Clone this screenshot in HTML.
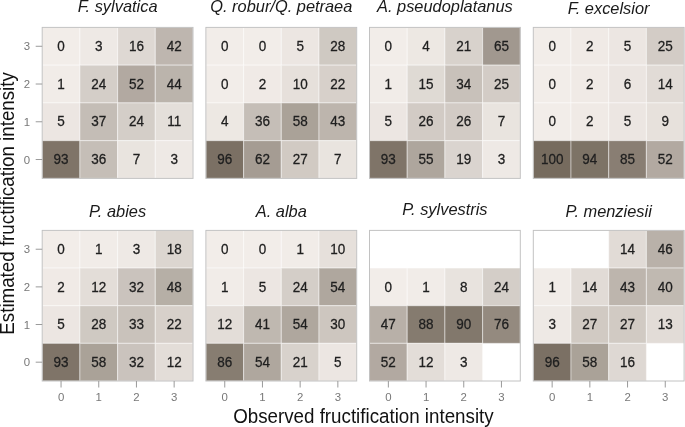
<!DOCTYPE html><html><head><meta charset="utf-8"><title>Fructification</title><style>html,body{margin:0;padding:0;background:#fff}svg{display:block}svg{will-change:transform}text{font-family:"Liberation Sans",Arial,sans-serif}</style></head><body>
<svg width="685" height="427" viewBox="0 0 685 427">
<rect width="685" height="427" fill="#fff"/>
<g>
<rect x="42.20" y="27.40" width="37.70" height="37.75" fill="#f2ede9" stroke="#fff" stroke-opacity="0.42" stroke-width="1.1"/>
<rect x="79.90" y="27.40" width="37.70" height="37.75" fill="#eee9e5" stroke="#fff" stroke-opacity="0.42" stroke-width="1.1"/>
<rect x="117.60" y="27.40" width="37.70" height="37.75" fill="#ded8d3" stroke="#fff" stroke-opacity="0.42" stroke-width="1.1"/>
<rect x="155.30" y="27.40" width="37.70" height="37.75" fill="#beb6af" stroke="#fff" stroke-opacity="0.42" stroke-width="1.1"/>
<rect x="42.20" y="65.15" width="37.70" height="37.75" fill="#f1ece8" stroke="#fff" stroke-opacity="0.42" stroke-width="1.1"/>
<rect x="79.90" y="65.15" width="37.70" height="37.75" fill="#d4cec8" stroke="#fff" stroke-opacity="0.42" stroke-width="1.1"/>
<rect x="117.60" y="65.15" width="37.70" height="37.75" fill="#b2a9a1" stroke="#fff" stroke-opacity="0.42" stroke-width="1.1"/>
<rect x="155.30" y="65.15" width="37.70" height="37.75" fill="#bbb4ac" stroke="#fff" stroke-opacity="0.42" stroke-width="1.1"/>
<rect x="42.20" y="102.90" width="37.70" height="37.75" fill="#ece6e2" stroke="#fff" stroke-opacity="0.42" stroke-width="1.1"/>
<rect x="79.90" y="102.90" width="37.70" height="37.75" fill="#c4bdb6" stroke="#fff" stroke-opacity="0.42" stroke-width="1.1"/>
<rect x="117.60" y="102.90" width="37.70" height="37.75" fill="#d4cec8" stroke="#fff" stroke-opacity="0.42" stroke-width="1.1"/>
<rect x="155.30" y="102.90" width="37.70" height="37.75" fill="#e4dfda" stroke="#fff" stroke-opacity="0.42" stroke-width="1.1"/>
<rect x="42.20" y="140.65" width="37.70" height="37.75" fill="#7f7468" stroke="#fff" stroke-opacity="0.42" stroke-width="1.1"/>
<rect x="79.90" y="140.65" width="37.70" height="37.75" fill="#c5beb7" stroke="#fff" stroke-opacity="0.42" stroke-width="1.1"/>
<rect x="117.60" y="140.65" width="37.70" height="37.75" fill="#e9e4df" stroke="#fff" stroke-opacity="0.42" stroke-width="1.1"/>
<rect x="155.30" y="140.65" width="37.70" height="37.75" fill="#eee9e5" stroke="#fff" stroke-opacity="0.42" stroke-width="1.1"/>
<text transform="translate(61.05,50.98) scale(1,1.04)" font-size="13.5" text-anchor="middle" fill="#202020" stroke="#202020" stroke-width="0.25">0</text>
<text transform="translate(98.75,50.98) scale(1,1.04)" font-size="13.5" text-anchor="middle" fill="#202020" stroke="#202020" stroke-width="0.25">3</text>
<text transform="translate(136.45,50.98) scale(1,1.04)" font-size="13.5" text-anchor="middle" fill="#202020" stroke="#202020" stroke-width="0.25">16</text>
<text transform="translate(174.15,50.98) scale(1,1.04)" font-size="13.5" text-anchor="middle" fill="#202020" stroke="#202020" stroke-width="0.25">42</text>
<text transform="translate(61.05,88.73) scale(1,1.04)" font-size="13.5" text-anchor="middle" fill="#202020" stroke="#202020" stroke-width="0.25">1</text>
<text transform="translate(98.75,88.73) scale(1,1.04)" font-size="13.5" text-anchor="middle" fill="#202020" stroke="#202020" stroke-width="0.25">24</text>
<text transform="translate(136.45,88.73) scale(1,1.04)" font-size="13.5" text-anchor="middle" fill="#202020" stroke="#202020" stroke-width="0.25">52</text>
<text transform="translate(174.15,88.73) scale(1,1.04)" font-size="13.5" text-anchor="middle" fill="#202020" stroke="#202020" stroke-width="0.25">44</text>
<text transform="translate(61.05,126.48) scale(1,1.04)" font-size="13.5" text-anchor="middle" fill="#202020" stroke="#202020" stroke-width="0.25">5</text>
<text transform="translate(98.75,126.48) scale(1,1.04)" font-size="13.5" text-anchor="middle" fill="#202020" stroke="#202020" stroke-width="0.25">37</text>
<text transform="translate(136.45,126.48) scale(1,1.04)" font-size="13.5" text-anchor="middle" fill="#202020" stroke="#202020" stroke-width="0.25">24</text>
<text transform="translate(174.15,126.48) scale(1,1.04)" font-size="13.5" text-anchor="middle" fill="#202020" stroke="#202020" stroke-width="0.25">11</text>
<text transform="translate(61.05,164.22) scale(1,1.04)" font-size="13.5" text-anchor="middle" fill="#202020" stroke="#202020" stroke-width="0.25">93</text>
<text transform="translate(98.75,164.22) scale(1,1.04)" font-size="13.5" text-anchor="middle" fill="#202020" stroke="#202020" stroke-width="0.25">36</text>
<text transform="translate(136.45,164.22) scale(1,1.04)" font-size="13.5" text-anchor="middle" fill="#202020" stroke="#202020" stroke-width="0.25">7</text>
<text transform="translate(174.15,164.22) scale(1,1.04)" font-size="13.5" text-anchor="middle" fill="#202020" stroke="#202020" stroke-width="0.25">3</text>
<rect x="42.20" y="27.40" width="150.80" height="151.00" fill="none" stroke="#c2c2c2" stroke-width="1"/>
<text x="117.60" y="12.0" font-size="16.4" font-style="italic" text-anchor="middle" fill="#1a1a1a">F. sylvatica</text>
<line x1="35.70" x2="42.20" y1="46.27" y2="46.27" stroke="#9a9a9a" stroke-width="1"/>
<text x="30.10" y="50.38" font-size="11.4" text-anchor="end" fill="#787878">3</text>
<line x1="35.70" x2="42.20" y1="84.03" y2="84.03" stroke="#9a9a9a" stroke-width="1"/>
<text x="30.10" y="88.12" font-size="11.4" text-anchor="end" fill="#787878">2</text>
<line x1="35.70" x2="42.20" y1="121.78" y2="121.78" stroke="#9a9a9a" stroke-width="1"/>
<text x="30.10" y="125.88" font-size="11.4" text-anchor="end" fill="#787878">1</text>
<line x1="35.70" x2="42.20" y1="159.53" y2="159.53" stroke="#9a9a9a" stroke-width="1"/>
<text x="30.10" y="163.62" font-size="11.4" text-anchor="end" fill="#787878">0</text>
</g>
<g>
<rect x="205.90" y="27.40" width="37.70" height="37.75" fill="#f2ede9" stroke="#fff" stroke-opacity="0.42" stroke-width="1.1"/>
<rect x="243.60" y="27.40" width="37.70" height="37.75" fill="#f2ede9" stroke="#fff" stroke-opacity="0.42" stroke-width="1.1"/>
<rect x="281.30" y="27.40" width="37.70" height="37.75" fill="#ece6e2" stroke="#fff" stroke-opacity="0.42" stroke-width="1.1"/>
<rect x="319.00" y="27.40" width="37.70" height="37.75" fill="#cfc9c2" stroke="#fff" stroke-opacity="0.42" stroke-width="1.1"/>
<rect x="205.90" y="65.15" width="37.70" height="37.75" fill="#f2ede9" stroke="#fff" stroke-opacity="0.42" stroke-width="1.1"/>
<rect x="243.60" y="65.15" width="37.70" height="37.75" fill="#f0eae6" stroke="#fff" stroke-opacity="0.42" stroke-width="1.1"/>
<rect x="281.30" y="65.15" width="37.70" height="37.75" fill="#e6e0db" stroke="#fff" stroke-opacity="0.42" stroke-width="1.1"/>
<rect x="319.00" y="65.15" width="37.70" height="37.75" fill="#d7d0ca" stroke="#fff" stroke-opacity="0.42" stroke-width="1.1"/>
<rect x="205.90" y="102.90" width="37.70" height="37.75" fill="#ede8e3" stroke="#fff" stroke-opacity="0.42" stroke-width="1.1"/>
<rect x="243.60" y="102.90" width="37.70" height="37.75" fill="#c5beb7" stroke="#fff" stroke-opacity="0.42" stroke-width="1.1"/>
<rect x="281.30" y="102.90" width="37.70" height="37.75" fill="#aaa298" stroke="#fff" stroke-opacity="0.42" stroke-width="1.1"/>
<rect x="319.00" y="102.90" width="37.70" height="37.75" fill="#bdb5ad" stroke="#fff" stroke-opacity="0.42" stroke-width="1.1"/>
<rect x="205.90" y="140.65" width="37.70" height="37.75" fill="#7b7064" stroke="#fff" stroke-opacity="0.42" stroke-width="1.1"/>
<rect x="243.60" y="140.65" width="37.70" height="37.75" fill="#a59c93" stroke="#fff" stroke-opacity="0.42" stroke-width="1.1"/>
<rect x="281.30" y="140.65" width="37.70" height="37.75" fill="#d1cac3" stroke="#fff" stroke-opacity="0.42" stroke-width="1.1"/>
<rect x="319.00" y="140.65" width="37.70" height="37.75" fill="#e9e4df" stroke="#fff" stroke-opacity="0.42" stroke-width="1.1"/>
<text transform="translate(224.75,50.98) scale(1,1.04)" font-size="13.5" text-anchor="middle" fill="#202020" stroke="#202020" stroke-width="0.25">0</text>
<text transform="translate(262.45,50.98) scale(1,1.04)" font-size="13.5" text-anchor="middle" fill="#202020" stroke="#202020" stroke-width="0.25">0</text>
<text transform="translate(300.15,50.98) scale(1,1.04)" font-size="13.5" text-anchor="middle" fill="#202020" stroke="#202020" stroke-width="0.25">5</text>
<text transform="translate(337.85,50.98) scale(1,1.04)" font-size="13.5" text-anchor="middle" fill="#202020" stroke="#202020" stroke-width="0.25">28</text>
<text transform="translate(224.75,88.73) scale(1,1.04)" font-size="13.5" text-anchor="middle" fill="#202020" stroke="#202020" stroke-width="0.25">0</text>
<text transform="translate(262.45,88.73) scale(1,1.04)" font-size="13.5" text-anchor="middle" fill="#202020" stroke="#202020" stroke-width="0.25">2</text>
<text transform="translate(300.15,88.73) scale(1,1.04)" font-size="13.5" text-anchor="middle" fill="#202020" stroke="#202020" stroke-width="0.25">10</text>
<text transform="translate(337.85,88.73) scale(1,1.04)" font-size="13.5" text-anchor="middle" fill="#202020" stroke="#202020" stroke-width="0.25">22</text>
<text transform="translate(224.75,126.48) scale(1,1.04)" font-size="13.5" text-anchor="middle" fill="#202020" stroke="#202020" stroke-width="0.25">4</text>
<text transform="translate(262.45,126.48) scale(1,1.04)" font-size="13.5" text-anchor="middle" fill="#202020" stroke="#202020" stroke-width="0.25">36</text>
<text transform="translate(300.15,126.48) scale(1,1.04)" font-size="13.5" text-anchor="middle" fill="#202020" stroke="#202020" stroke-width="0.25">58</text>
<text transform="translate(337.85,126.48) scale(1,1.04)" font-size="13.5" text-anchor="middle" fill="#202020" stroke="#202020" stroke-width="0.25">43</text>
<text transform="translate(224.75,164.22) scale(1,1.04)" font-size="13.5" text-anchor="middle" fill="#202020" stroke="#202020" stroke-width="0.25">96</text>
<text transform="translate(262.45,164.22) scale(1,1.04)" font-size="13.5" text-anchor="middle" fill="#202020" stroke="#202020" stroke-width="0.25">62</text>
<text transform="translate(300.15,164.22) scale(1,1.04)" font-size="13.5" text-anchor="middle" fill="#202020" stroke="#202020" stroke-width="0.25">27</text>
<text transform="translate(337.85,164.22) scale(1,1.04)" font-size="13.5" text-anchor="middle" fill="#202020" stroke="#202020" stroke-width="0.25">7</text>
<rect x="205.90" y="27.40" width="150.80" height="151.00" fill="none" stroke="#c2c2c2" stroke-width="1"/>
<text x="281.30" y="12.0" font-size="16.4" font-style="italic" text-anchor="middle" fill="#1a1a1a">Q. robur/Q. petraea</text>
</g>
<g>
<rect x="369.50" y="27.40" width="37.70" height="37.75" fill="#f2ede9" stroke="#fff" stroke-opacity="0.42" stroke-width="1.1"/>
<rect x="407.20" y="27.40" width="37.70" height="37.75" fill="#ede8e3" stroke="#fff" stroke-opacity="0.42" stroke-width="1.1"/>
<rect x="444.90" y="27.40" width="37.70" height="37.75" fill="#d8d2cc" stroke="#fff" stroke-opacity="0.42" stroke-width="1.1"/>
<rect x="482.60" y="27.40" width="37.70" height="37.75" fill="#a1988f" stroke="#fff" stroke-opacity="0.42" stroke-width="1.1"/>
<rect x="369.50" y="65.15" width="37.70" height="37.75" fill="#f1ece8" stroke="#fff" stroke-opacity="0.42" stroke-width="1.1"/>
<rect x="407.20" y="65.15" width="37.70" height="37.75" fill="#dfdad4" stroke="#fff" stroke-opacity="0.42" stroke-width="1.1"/>
<rect x="444.90" y="65.15" width="37.70" height="37.75" fill="#c8c1ba" stroke="#fff" stroke-opacity="0.42" stroke-width="1.1"/>
<rect x="482.60" y="65.15" width="37.70" height="37.75" fill="#d3ccc6" stroke="#fff" stroke-opacity="0.42" stroke-width="1.1"/>
<rect x="369.50" y="102.90" width="37.70" height="37.75" fill="#ece6e2" stroke="#fff" stroke-opacity="0.42" stroke-width="1.1"/>
<rect x="407.20" y="102.90" width="37.70" height="37.75" fill="#d2cbc5" stroke="#fff" stroke-opacity="0.42" stroke-width="1.1"/>
<rect x="444.90" y="102.90" width="37.70" height="37.75" fill="#d2cbc5" stroke="#fff" stroke-opacity="0.42" stroke-width="1.1"/>
<rect x="482.60" y="102.90" width="37.70" height="37.75" fill="#e9e4df" stroke="#fff" stroke-opacity="0.42" stroke-width="1.1"/>
<rect x="369.50" y="140.65" width="37.70" height="37.75" fill="#7f7468" stroke="#fff" stroke-opacity="0.42" stroke-width="1.1"/>
<rect x="407.20" y="140.65" width="37.70" height="37.75" fill="#aea69d" stroke="#fff" stroke-opacity="0.42" stroke-width="1.1"/>
<rect x="444.90" y="140.65" width="37.70" height="37.75" fill="#dad4cf" stroke="#fff" stroke-opacity="0.42" stroke-width="1.1"/>
<rect x="482.60" y="140.65" width="37.70" height="37.75" fill="#eee9e5" stroke="#fff" stroke-opacity="0.42" stroke-width="1.1"/>
<text transform="translate(388.35,50.98) scale(1,1.04)" font-size="13.5" text-anchor="middle" fill="#202020" stroke="#202020" stroke-width="0.25">0</text>
<text transform="translate(426.05,50.98) scale(1,1.04)" font-size="13.5" text-anchor="middle" fill="#202020" stroke="#202020" stroke-width="0.25">4</text>
<text transform="translate(463.75,50.98) scale(1,1.04)" font-size="13.5" text-anchor="middle" fill="#202020" stroke="#202020" stroke-width="0.25">21</text>
<text transform="translate(501.45,50.98) scale(1,1.04)" font-size="13.5" text-anchor="middle" fill="#202020" stroke="#202020" stroke-width="0.25">65</text>
<text transform="translate(388.35,88.73) scale(1,1.04)" font-size="13.5" text-anchor="middle" fill="#202020" stroke="#202020" stroke-width="0.25">1</text>
<text transform="translate(426.05,88.73) scale(1,1.04)" font-size="13.5" text-anchor="middle" fill="#202020" stroke="#202020" stroke-width="0.25">15</text>
<text transform="translate(463.75,88.73) scale(1,1.04)" font-size="13.5" text-anchor="middle" fill="#202020" stroke="#202020" stroke-width="0.25">34</text>
<text transform="translate(501.45,88.73) scale(1,1.04)" font-size="13.5" text-anchor="middle" fill="#202020" stroke="#202020" stroke-width="0.25">25</text>
<text transform="translate(388.35,126.48) scale(1,1.04)" font-size="13.5" text-anchor="middle" fill="#202020" stroke="#202020" stroke-width="0.25">5</text>
<text transform="translate(426.05,126.48) scale(1,1.04)" font-size="13.5" text-anchor="middle" fill="#202020" stroke="#202020" stroke-width="0.25">26</text>
<text transform="translate(463.75,126.48) scale(1,1.04)" font-size="13.5" text-anchor="middle" fill="#202020" stroke="#202020" stroke-width="0.25">26</text>
<text transform="translate(501.45,126.48) scale(1,1.04)" font-size="13.5" text-anchor="middle" fill="#202020" stroke="#202020" stroke-width="0.25">7</text>
<text transform="translate(388.35,164.22) scale(1,1.04)" font-size="13.5" text-anchor="middle" fill="#202020" stroke="#202020" stroke-width="0.25">93</text>
<text transform="translate(426.05,164.22) scale(1,1.04)" font-size="13.5" text-anchor="middle" fill="#202020" stroke="#202020" stroke-width="0.25">55</text>
<text transform="translate(463.75,164.22) scale(1,1.04)" font-size="13.5" text-anchor="middle" fill="#202020" stroke="#202020" stroke-width="0.25">19</text>
<text transform="translate(501.45,164.22) scale(1,1.04)" font-size="13.5" text-anchor="middle" fill="#202020" stroke="#202020" stroke-width="0.25">3</text>
<rect x="369.50" y="27.40" width="150.80" height="151.00" fill="none" stroke="#c2c2c2" stroke-width="1"/>
<text x="444.90" y="12.0" font-size="16.4" font-style="italic" text-anchor="middle" fill="#1a1a1a">A. pseudoplatanus</text>
</g>
<g>
<rect x="533.30" y="27.40" width="37.70" height="37.75" fill="#f2ede9" stroke="#fff" stroke-opacity="0.42" stroke-width="1.1"/>
<rect x="571.00" y="27.40" width="37.70" height="37.75" fill="#f0eae6" stroke="#fff" stroke-opacity="0.42" stroke-width="1.1"/>
<rect x="608.70" y="27.40" width="37.70" height="37.75" fill="#ece6e2" stroke="#fff" stroke-opacity="0.42" stroke-width="1.1"/>
<rect x="646.40" y="27.40" width="37.70" height="37.75" fill="#d3ccc6" stroke="#fff" stroke-opacity="0.42" stroke-width="1.1"/>
<rect x="533.30" y="65.15" width="37.70" height="37.75" fill="#f2ede9" stroke="#fff" stroke-opacity="0.42" stroke-width="1.1"/>
<rect x="571.00" y="65.15" width="37.70" height="37.75" fill="#f0eae6" stroke="#fff" stroke-opacity="0.42" stroke-width="1.1"/>
<rect x="608.70" y="65.15" width="37.70" height="37.75" fill="#ebe5e1" stroke="#fff" stroke-opacity="0.42" stroke-width="1.1"/>
<rect x="646.40" y="65.15" width="37.70" height="37.75" fill="#e1dbd6" stroke="#fff" stroke-opacity="0.42" stroke-width="1.1"/>
<rect x="533.30" y="102.90" width="37.70" height="37.75" fill="#f2ede9" stroke="#fff" stroke-opacity="0.42" stroke-width="1.1"/>
<rect x="571.00" y="102.90" width="37.70" height="37.75" fill="#f0eae6" stroke="#fff" stroke-opacity="0.42" stroke-width="1.1"/>
<rect x="608.70" y="102.90" width="37.70" height="37.75" fill="#ece6e2" stroke="#fff" stroke-opacity="0.42" stroke-width="1.1"/>
<rect x="646.40" y="102.90" width="37.70" height="37.75" fill="#e7e1dc" stroke="#fff" stroke-opacity="0.42" stroke-width="1.1"/>
<rect x="533.30" y="140.65" width="37.70" height="37.75" fill="#766b5e" stroke="#fff" stroke-opacity="0.42" stroke-width="1.1"/>
<rect x="571.00" y="140.65" width="37.70" height="37.75" fill="#7d7366" stroke="#fff" stroke-opacity="0.42" stroke-width="1.1"/>
<rect x="608.70" y="140.65" width="37.70" height="37.75" fill="#897e73" stroke="#fff" stroke-opacity="0.42" stroke-width="1.1"/>
<rect x="646.40" y="140.65" width="37.70" height="37.75" fill="#b2a9a1" stroke="#fff" stroke-opacity="0.42" stroke-width="1.1"/>
<text transform="translate(552.15,50.98) scale(1,1.04)" font-size="13.5" text-anchor="middle" fill="#202020" stroke="#202020" stroke-width="0.25">0</text>
<text transform="translate(589.85,50.98) scale(1,1.04)" font-size="13.5" text-anchor="middle" fill="#202020" stroke="#202020" stroke-width="0.25">2</text>
<text transform="translate(627.55,50.98) scale(1,1.04)" font-size="13.5" text-anchor="middle" fill="#202020" stroke="#202020" stroke-width="0.25">5</text>
<text transform="translate(665.25,50.98) scale(1,1.04)" font-size="13.5" text-anchor="middle" fill="#202020" stroke="#202020" stroke-width="0.25">25</text>
<text transform="translate(552.15,88.73) scale(1,1.04)" font-size="13.5" text-anchor="middle" fill="#202020" stroke="#202020" stroke-width="0.25">0</text>
<text transform="translate(589.85,88.73) scale(1,1.04)" font-size="13.5" text-anchor="middle" fill="#202020" stroke="#202020" stroke-width="0.25">2</text>
<text transform="translate(627.55,88.73) scale(1,1.04)" font-size="13.5" text-anchor="middle" fill="#202020" stroke="#202020" stroke-width="0.25">6</text>
<text transform="translate(665.25,88.73) scale(1,1.04)" font-size="13.5" text-anchor="middle" fill="#202020" stroke="#202020" stroke-width="0.25">14</text>
<text transform="translate(552.15,126.48) scale(1,1.04)" font-size="13.5" text-anchor="middle" fill="#202020" stroke="#202020" stroke-width="0.25">0</text>
<text transform="translate(589.85,126.48) scale(1,1.04)" font-size="13.5" text-anchor="middle" fill="#202020" stroke="#202020" stroke-width="0.25">2</text>
<text transform="translate(627.55,126.48) scale(1,1.04)" font-size="13.5" text-anchor="middle" fill="#202020" stroke="#202020" stroke-width="0.25">5</text>
<text transform="translate(665.25,126.48) scale(1,1.04)" font-size="13.5" text-anchor="middle" fill="#202020" stroke="#202020" stroke-width="0.25">9</text>
<text transform="translate(552.15,164.22) scale(1,1.04)" font-size="13.5" text-anchor="middle" fill="#202020" stroke="#202020" stroke-width="0.25">100</text>
<text transform="translate(589.85,164.22) scale(1,1.04)" font-size="13.5" text-anchor="middle" fill="#202020" stroke="#202020" stroke-width="0.25">94</text>
<text transform="translate(627.55,164.22) scale(1,1.04)" font-size="13.5" text-anchor="middle" fill="#202020" stroke="#202020" stroke-width="0.25">85</text>
<text transform="translate(665.25,164.22) scale(1,1.04)" font-size="13.5" text-anchor="middle" fill="#202020" stroke="#202020" stroke-width="0.25">52</text>
<rect x="533.30" y="27.40" width="150.80" height="151.00" fill="none" stroke="#c2c2c2" stroke-width="1"/>
<text x="608.70" y="13.9" font-size="16.4" font-style="italic" text-anchor="middle" fill="#1a1a1a">F. excelsior</text>
</g>
<g>
<rect x="42.20" y="230.40" width="37.70" height="37.65" fill="#f2ede9" stroke="#fff" stroke-opacity="0.42" stroke-width="1.1"/>
<rect x="79.90" y="230.40" width="37.70" height="37.65" fill="#f1ece8" stroke="#fff" stroke-opacity="0.42" stroke-width="1.1"/>
<rect x="117.60" y="230.40" width="37.70" height="37.65" fill="#eee9e5" stroke="#fff" stroke-opacity="0.42" stroke-width="1.1"/>
<rect x="155.30" y="230.40" width="37.70" height="37.65" fill="#dcd6d0" stroke="#fff" stroke-opacity="0.42" stroke-width="1.1"/>
<rect x="42.20" y="268.05" width="37.70" height="37.65" fill="#f0eae6" stroke="#fff" stroke-opacity="0.42" stroke-width="1.1"/>
<rect x="79.90" y="268.05" width="37.70" height="37.65" fill="#e3ddd8" stroke="#fff" stroke-opacity="0.42" stroke-width="1.1"/>
<rect x="117.60" y="268.05" width="37.70" height="37.65" fill="#cac3bd" stroke="#fff" stroke-opacity="0.42" stroke-width="1.1"/>
<rect x="155.30" y="268.05" width="37.70" height="37.65" fill="#b6afa6" stroke="#fff" stroke-opacity="0.42" stroke-width="1.1"/>
<rect x="42.20" y="305.70" width="37.70" height="37.65" fill="#ece6e2" stroke="#fff" stroke-opacity="0.42" stroke-width="1.1"/>
<rect x="79.90" y="305.70" width="37.70" height="37.65" fill="#cfc9c2" stroke="#fff" stroke-opacity="0.42" stroke-width="1.1"/>
<rect x="117.60" y="305.70" width="37.70" height="37.65" fill="#c9c2bb" stroke="#fff" stroke-opacity="0.42" stroke-width="1.1"/>
<rect x="155.30" y="305.70" width="37.70" height="37.65" fill="#d7d0ca" stroke="#fff" stroke-opacity="0.42" stroke-width="1.1"/>
<rect x="42.20" y="343.35" width="37.70" height="37.65" fill="#7f7468" stroke="#fff" stroke-opacity="0.42" stroke-width="1.1"/>
<rect x="79.90" y="343.35" width="37.70" height="37.65" fill="#aaa298" stroke="#fff" stroke-opacity="0.42" stroke-width="1.1"/>
<rect x="117.60" y="343.35" width="37.70" height="37.65" fill="#cac3bd" stroke="#fff" stroke-opacity="0.42" stroke-width="1.1"/>
<rect x="155.30" y="343.35" width="37.70" height="37.65" fill="#e3ddd8" stroke="#fff" stroke-opacity="0.42" stroke-width="1.1"/>
<text transform="translate(61.05,253.92) scale(1,1.04)" font-size="13.5" text-anchor="middle" fill="#202020" stroke="#202020" stroke-width="0.25">0</text>
<text transform="translate(98.75,253.92) scale(1,1.04)" font-size="13.5" text-anchor="middle" fill="#202020" stroke="#202020" stroke-width="0.25">1</text>
<text transform="translate(136.45,253.92) scale(1,1.04)" font-size="13.5" text-anchor="middle" fill="#202020" stroke="#202020" stroke-width="0.25">3</text>
<text transform="translate(174.15,253.92) scale(1,1.04)" font-size="13.5" text-anchor="middle" fill="#202020" stroke="#202020" stroke-width="0.25">18</text>
<text transform="translate(61.05,291.57) scale(1,1.04)" font-size="13.5" text-anchor="middle" fill="#202020" stroke="#202020" stroke-width="0.25">2</text>
<text transform="translate(98.75,291.57) scale(1,1.04)" font-size="13.5" text-anchor="middle" fill="#202020" stroke="#202020" stroke-width="0.25">12</text>
<text transform="translate(136.45,291.57) scale(1,1.04)" font-size="13.5" text-anchor="middle" fill="#202020" stroke="#202020" stroke-width="0.25">32</text>
<text transform="translate(174.15,291.57) scale(1,1.04)" font-size="13.5" text-anchor="middle" fill="#202020" stroke="#202020" stroke-width="0.25">48</text>
<text transform="translate(61.05,329.22) scale(1,1.04)" font-size="13.5" text-anchor="middle" fill="#202020" stroke="#202020" stroke-width="0.25">5</text>
<text transform="translate(98.75,329.22) scale(1,1.04)" font-size="13.5" text-anchor="middle" fill="#202020" stroke="#202020" stroke-width="0.25">28</text>
<text transform="translate(136.45,329.22) scale(1,1.04)" font-size="13.5" text-anchor="middle" fill="#202020" stroke="#202020" stroke-width="0.25">33</text>
<text transform="translate(174.15,329.22) scale(1,1.04)" font-size="13.5" text-anchor="middle" fill="#202020" stroke="#202020" stroke-width="0.25">22</text>
<text transform="translate(61.05,366.88) scale(1,1.04)" font-size="13.5" text-anchor="middle" fill="#202020" stroke="#202020" stroke-width="0.25">93</text>
<text transform="translate(98.75,366.88) scale(1,1.04)" font-size="13.5" text-anchor="middle" fill="#202020" stroke="#202020" stroke-width="0.25">58</text>
<text transform="translate(136.45,366.88) scale(1,1.04)" font-size="13.5" text-anchor="middle" fill="#202020" stroke="#202020" stroke-width="0.25">32</text>
<text transform="translate(174.15,366.88) scale(1,1.04)" font-size="13.5" text-anchor="middle" fill="#202020" stroke="#202020" stroke-width="0.25">12</text>
<rect x="42.20" y="230.40" width="150.80" height="150.60" fill="none" stroke="#c2c2c2" stroke-width="1"/>
<text x="117.60" y="216.75" font-size="16.4" font-style="italic" text-anchor="middle" fill="#1a1a1a">P. abies</text>
<line x1="35.70" x2="42.20" y1="249.22" y2="249.22" stroke="#9a9a9a" stroke-width="1"/>
<text x="30.10" y="253.32" font-size="11.4" text-anchor="end" fill="#787878">3</text>
<line x1="35.70" x2="42.20" y1="286.88" y2="286.88" stroke="#9a9a9a" stroke-width="1"/>
<text x="30.10" y="290.98" font-size="11.4" text-anchor="end" fill="#787878">2</text>
<line x1="35.70" x2="42.20" y1="324.52" y2="324.52" stroke="#9a9a9a" stroke-width="1"/>
<text x="30.10" y="328.62" font-size="11.4" text-anchor="end" fill="#787878">1</text>
<line x1="35.70" x2="42.20" y1="362.18" y2="362.18" stroke="#9a9a9a" stroke-width="1"/>
<text x="30.10" y="366.28" font-size="11.4" text-anchor="end" fill="#787878">0</text>
<line x1="61.05" x2="61.05" y1="381.00" y2="387.50" stroke="#9a9a9a" stroke-width="1"/>
<text x="61.05" y="401.00" font-size="11.4" text-anchor="middle" fill="#787878">0</text>
<line x1="98.75" x2="98.75" y1="381.00" y2="387.50" stroke="#9a9a9a" stroke-width="1"/>
<text x="98.75" y="401.00" font-size="11.4" text-anchor="middle" fill="#787878">1</text>
<line x1="136.45" x2="136.45" y1="381.00" y2="387.50" stroke="#9a9a9a" stroke-width="1"/>
<text x="136.45" y="401.00" font-size="11.4" text-anchor="middle" fill="#787878">2</text>
<line x1="174.15" x2="174.15" y1="381.00" y2="387.50" stroke="#9a9a9a" stroke-width="1"/>
<text x="174.15" y="401.00" font-size="11.4" text-anchor="middle" fill="#787878">3</text>
</g>
<g>
<rect x="205.90" y="230.40" width="37.70" height="37.65" fill="#f2ede9" stroke="#fff" stroke-opacity="0.42" stroke-width="1.1"/>
<rect x="243.60" y="230.40" width="37.70" height="37.65" fill="#f2ede9" stroke="#fff" stroke-opacity="0.42" stroke-width="1.1"/>
<rect x="281.30" y="230.40" width="37.70" height="37.65" fill="#f1ece8" stroke="#fff" stroke-opacity="0.42" stroke-width="1.1"/>
<rect x="319.00" y="230.40" width="37.70" height="37.65" fill="#e6e0db" stroke="#fff" stroke-opacity="0.42" stroke-width="1.1"/>
<rect x="205.90" y="268.05" width="37.70" height="37.65" fill="#f1ece8" stroke="#fff" stroke-opacity="0.42" stroke-width="1.1"/>
<rect x="243.60" y="268.05" width="37.70" height="37.65" fill="#ece6e2" stroke="#fff" stroke-opacity="0.42" stroke-width="1.1"/>
<rect x="281.30" y="268.05" width="37.70" height="37.65" fill="#d4cec8" stroke="#fff" stroke-opacity="0.42" stroke-width="1.1"/>
<rect x="319.00" y="268.05" width="37.70" height="37.65" fill="#afa79e" stroke="#fff" stroke-opacity="0.42" stroke-width="1.1"/>
<rect x="205.90" y="305.70" width="37.70" height="37.65" fill="#e3ddd8" stroke="#fff" stroke-opacity="0.42" stroke-width="1.1"/>
<rect x="243.60" y="305.70" width="37.70" height="37.65" fill="#bfb8b0" stroke="#fff" stroke-opacity="0.42" stroke-width="1.1"/>
<rect x="281.30" y="305.70" width="37.70" height="37.65" fill="#afa79e" stroke="#fff" stroke-opacity="0.42" stroke-width="1.1"/>
<rect x="319.00" y="305.70" width="37.70" height="37.65" fill="#cdc6bf" stroke="#fff" stroke-opacity="0.42" stroke-width="1.1"/>
<rect x="205.90" y="343.35" width="37.70" height="37.65" fill="#877d71" stroke="#fff" stroke-opacity="0.42" stroke-width="1.1"/>
<rect x="243.60" y="343.35" width="37.70" height="37.65" fill="#afa79e" stroke="#fff" stroke-opacity="0.42" stroke-width="1.1"/>
<rect x="281.30" y="343.35" width="37.70" height="37.65" fill="#d8d2cc" stroke="#fff" stroke-opacity="0.42" stroke-width="1.1"/>
<rect x="319.00" y="343.35" width="37.70" height="37.65" fill="#ece6e2" stroke="#fff" stroke-opacity="0.42" stroke-width="1.1"/>
<text transform="translate(224.75,253.92) scale(1,1.04)" font-size="13.5" text-anchor="middle" fill="#202020" stroke="#202020" stroke-width="0.25">0</text>
<text transform="translate(262.45,253.92) scale(1,1.04)" font-size="13.5" text-anchor="middle" fill="#202020" stroke="#202020" stroke-width="0.25">0</text>
<text transform="translate(300.15,253.92) scale(1,1.04)" font-size="13.5" text-anchor="middle" fill="#202020" stroke="#202020" stroke-width="0.25">1</text>
<text transform="translate(337.85,253.92) scale(1,1.04)" font-size="13.5" text-anchor="middle" fill="#202020" stroke="#202020" stroke-width="0.25">10</text>
<text transform="translate(224.75,291.57) scale(1,1.04)" font-size="13.5" text-anchor="middle" fill="#202020" stroke="#202020" stroke-width="0.25">1</text>
<text transform="translate(262.45,291.57) scale(1,1.04)" font-size="13.5" text-anchor="middle" fill="#202020" stroke="#202020" stroke-width="0.25">5</text>
<text transform="translate(300.15,291.57) scale(1,1.04)" font-size="13.5" text-anchor="middle" fill="#202020" stroke="#202020" stroke-width="0.25">24</text>
<text transform="translate(337.85,291.57) scale(1,1.04)" font-size="13.5" text-anchor="middle" fill="#202020" stroke="#202020" stroke-width="0.25">54</text>
<text transform="translate(224.75,329.22) scale(1,1.04)" font-size="13.5" text-anchor="middle" fill="#202020" stroke="#202020" stroke-width="0.25">12</text>
<text transform="translate(262.45,329.22) scale(1,1.04)" font-size="13.5" text-anchor="middle" fill="#202020" stroke="#202020" stroke-width="0.25">41</text>
<text transform="translate(300.15,329.22) scale(1,1.04)" font-size="13.5" text-anchor="middle" fill="#202020" stroke="#202020" stroke-width="0.25">54</text>
<text transform="translate(337.85,329.22) scale(1,1.04)" font-size="13.5" text-anchor="middle" fill="#202020" stroke="#202020" stroke-width="0.25">30</text>
<text transform="translate(224.75,366.88) scale(1,1.04)" font-size="13.5" text-anchor="middle" fill="#202020" stroke="#202020" stroke-width="0.25">86</text>
<text transform="translate(262.45,366.88) scale(1,1.04)" font-size="13.5" text-anchor="middle" fill="#202020" stroke="#202020" stroke-width="0.25">54</text>
<text transform="translate(300.15,366.88) scale(1,1.04)" font-size="13.5" text-anchor="middle" fill="#202020" stroke="#202020" stroke-width="0.25">21</text>
<text transform="translate(337.85,366.88) scale(1,1.04)" font-size="13.5" text-anchor="middle" fill="#202020" stroke="#202020" stroke-width="0.25">5</text>
<rect x="205.90" y="230.40" width="150.80" height="150.60" fill="none" stroke="#c2c2c2" stroke-width="1"/>
<text x="281.30" y="216.75" font-size="16.4" font-style="italic" text-anchor="middle" fill="#1a1a1a">A. alba</text>
<line x1="224.75" x2="224.75" y1="381.00" y2="387.50" stroke="#9a9a9a" stroke-width="1"/>
<text x="224.75" y="401.00" font-size="11.4" text-anchor="middle" fill="#787878">0</text>
<line x1="262.45" x2="262.45" y1="381.00" y2="387.50" stroke="#9a9a9a" stroke-width="1"/>
<text x="262.45" y="401.00" font-size="11.4" text-anchor="middle" fill="#787878">1</text>
<line x1="300.15" x2="300.15" y1="381.00" y2="387.50" stroke="#9a9a9a" stroke-width="1"/>
<text x="300.15" y="401.00" font-size="11.4" text-anchor="middle" fill="#787878">2</text>
<line x1="337.85" x2="337.85" y1="381.00" y2="387.50" stroke="#9a9a9a" stroke-width="1"/>
<text x="337.85" y="401.00" font-size="11.4" text-anchor="middle" fill="#787878">3</text>
</g>
<g>
<rect x="369.50" y="268.05" width="37.70" height="37.65" fill="#f2ede9" stroke="#fff" stroke-opacity="0.42" stroke-width="1.1"/>
<rect x="407.20" y="268.05" width="37.70" height="37.65" fill="#f1ece8" stroke="#fff" stroke-opacity="0.42" stroke-width="1.1"/>
<rect x="444.90" y="268.05" width="37.70" height="37.65" fill="#e8e3de" stroke="#fff" stroke-opacity="0.42" stroke-width="1.1"/>
<rect x="482.60" y="268.05" width="37.70" height="37.65" fill="#d4cec8" stroke="#fff" stroke-opacity="0.42" stroke-width="1.1"/>
<rect x="369.50" y="305.70" width="37.70" height="37.65" fill="#b8b0a8" stroke="#fff" stroke-opacity="0.42" stroke-width="1.1"/>
<rect x="407.20" y="305.70" width="37.70" height="37.65" fill="#857b6f" stroke="#fff" stroke-opacity="0.42" stroke-width="1.1"/>
<rect x="444.90" y="305.70" width="37.70" height="37.65" fill="#82786c" stroke="#fff" stroke-opacity="0.42" stroke-width="1.1"/>
<rect x="482.60" y="305.70" width="37.70" height="37.65" fill="#948a7f" stroke="#fff" stroke-opacity="0.42" stroke-width="1.1"/>
<rect x="369.50" y="343.35" width="37.70" height="37.65" fill="#b2a9a1" stroke="#fff" stroke-opacity="0.42" stroke-width="1.1"/>
<rect x="407.20" y="343.35" width="37.70" height="37.65" fill="#e3ddd8" stroke="#fff" stroke-opacity="0.42" stroke-width="1.1"/>
<rect x="444.90" y="343.35" width="37.70" height="37.65" fill="#eee9e5" stroke="#fff" stroke-opacity="0.42" stroke-width="1.1"/>
<text transform="translate(388.35,291.57) scale(1,1.04)" font-size="13.5" text-anchor="middle" fill="#202020" stroke="#202020" stroke-width="0.25">0</text>
<text transform="translate(426.05,291.57) scale(1,1.04)" font-size="13.5" text-anchor="middle" fill="#202020" stroke="#202020" stroke-width="0.25">1</text>
<text transform="translate(463.75,291.57) scale(1,1.04)" font-size="13.5" text-anchor="middle" fill="#202020" stroke="#202020" stroke-width="0.25">8</text>
<text transform="translate(501.45,291.57) scale(1,1.04)" font-size="13.5" text-anchor="middle" fill="#202020" stroke="#202020" stroke-width="0.25">24</text>
<text transform="translate(388.35,329.22) scale(1,1.04)" font-size="13.5" text-anchor="middle" fill="#202020" stroke="#202020" stroke-width="0.25">47</text>
<text transform="translate(426.05,329.22) scale(1,1.04)" font-size="13.5" text-anchor="middle" fill="#202020" stroke="#202020" stroke-width="0.25">88</text>
<text transform="translate(463.75,329.22) scale(1,1.04)" font-size="13.5" text-anchor="middle" fill="#202020" stroke="#202020" stroke-width="0.25">90</text>
<text transform="translate(501.45,329.22) scale(1,1.04)" font-size="13.5" text-anchor="middle" fill="#202020" stroke="#202020" stroke-width="0.25">76</text>
<text transform="translate(388.35,366.88) scale(1,1.04)" font-size="13.5" text-anchor="middle" fill="#202020" stroke="#202020" stroke-width="0.25">52</text>
<text transform="translate(426.05,366.88) scale(1,1.04)" font-size="13.5" text-anchor="middle" fill="#202020" stroke="#202020" stroke-width="0.25">12</text>
<text transform="translate(463.75,366.88) scale(1,1.04)" font-size="13.5" text-anchor="middle" fill="#202020" stroke="#202020" stroke-width="0.25">3</text>
<rect x="369.50" y="230.40" width="150.80" height="150.60" fill="none" stroke="#c2c2c2" stroke-width="1"/>
<text x="444.90" y="214.6" font-size="16.4" font-style="italic" text-anchor="middle" fill="#1a1a1a">P. sylvestris</text>
<line x1="388.35" x2="388.35" y1="381.00" y2="387.50" stroke="#9a9a9a" stroke-width="1"/>
<text x="388.35" y="401.00" font-size="11.4" text-anchor="middle" fill="#787878">0</text>
<line x1="426.05" x2="426.05" y1="381.00" y2="387.50" stroke="#9a9a9a" stroke-width="1"/>
<text x="426.05" y="401.00" font-size="11.4" text-anchor="middle" fill="#787878">1</text>
<line x1="463.75" x2="463.75" y1="381.00" y2="387.50" stroke="#9a9a9a" stroke-width="1"/>
<text x="463.75" y="401.00" font-size="11.4" text-anchor="middle" fill="#787878">2</text>
<line x1="501.45" x2="501.45" y1="381.00" y2="387.50" stroke="#9a9a9a" stroke-width="1"/>
<text x="501.45" y="401.00" font-size="11.4" text-anchor="middle" fill="#787878">3</text>
</g>
<g>
<rect x="608.70" y="230.40" width="37.70" height="37.65" fill="#e1dbd6" stroke="#fff" stroke-opacity="0.42" stroke-width="1.1"/>
<rect x="646.40" y="230.40" width="37.70" height="37.65" fill="#b9b1a9" stroke="#fff" stroke-opacity="0.42" stroke-width="1.1"/>
<rect x="533.30" y="268.05" width="37.70" height="37.65" fill="#f1ece8" stroke="#fff" stroke-opacity="0.42" stroke-width="1.1"/>
<rect x="571.00" y="268.05" width="37.70" height="37.65" fill="#e1dbd6" stroke="#fff" stroke-opacity="0.42" stroke-width="1.1"/>
<rect x="608.70" y="268.05" width="37.70" height="37.65" fill="#bdb5ad" stroke="#fff" stroke-opacity="0.42" stroke-width="1.1"/>
<rect x="646.40" y="268.05" width="37.70" height="37.65" fill="#c0b9b1" stroke="#fff" stroke-opacity="0.42" stroke-width="1.1"/>
<rect x="533.30" y="305.70" width="37.70" height="37.65" fill="#eee9e5" stroke="#fff" stroke-opacity="0.42" stroke-width="1.1"/>
<rect x="571.00" y="305.70" width="37.70" height="37.65" fill="#d1cac3" stroke="#fff" stroke-opacity="0.42" stroke-width="1.1"/>
<rect x="608.70" y="305.70" width="37.70" height="37.65" fill="#d1cac3" stroke="#fff" stroke-opacity="0.42" stroke-width="1.1"/>
<rect x="646.40" y="305.70" width="37.70" height="37.65" fill="#e2dcd7" stroke="#fff" stroke-opacity="0.42" stroke-width="1.1"/>
<rect x="533.30" y="343.35" width="37.70" height="37.65" fill="#7b7064" stroke="#fff" stroke-opacity="0.42" stroke-width="1.1"/>
<rect x="571.00" y="343.35" width="37.70" height="37.65" fill="#aaa298" stroke="#fff" stroke-opacity="0.42" stroke-width="1.1"/>
<rect x="608.70" y="343.35" width="37.70" height="37.65" fill="#ded8d3" stroke="#fff" stroke-opacity="0.42" stroke-width="1.1"/>
<text transform="translate(627.55,253.92) scale(1,1.04)" font-size="13.5" text-anchor="middle" fill="#202020" stroke="#202020" stroke-width="0.25">14</text>
<text transform="translate(665.25,253.92) scale(1,1.04)" font-size="13.5" text-anchor="middle" fill="#202020" stroke="#202020" stroke-width="0.25">46</text>
<text transform="translate(552.15,291.57) scale(1,1.04)" font-size="13.5" text-anchor="middle" fill="#202020" stroke="#202020" stroke-width="0.25">1</text>
<text transform="translate(589.85,291.57) scale(1,1.04)" font-size="13.5" text-anchor="middle" fill="#202020" stroke="#202020" stroke-width="0.25">14</text>
<text transform="translate(627.55,291.57) scale(1,1.04)" font-size="13.5" text-anchor="middle" fill="#202020" stroke="#202020" stroke-width="0.25">43</text>
<text transform="translate(665.25,291.57) scale(1,1.04)" font-size="13.5" text-anchor="middle" fill="#202020" stroke="#202020" stroke-width="0.25">40</text>
<text transform="translate(552.15,329.22) scale(1,1.04)" font-size="13.5" text-anchor="middle" fill="#202020" stroke="#202020" stroke-width="0.25">3</text>
<text transform="translate(589.85,329.22) scale(1,1.04)" font-size="13.5" text-anchor="middle" fill="#202020" stroke="#202020" stroke-width="0.25">27</text>
<text transform="translate(627.55,329.22) scale(1,1.04)" font-size="13.5" text-anchor="middle" fill="#202020" stroke="#202020" stroke-width="0.25">27</text>
<text transform="translate(665.25,329.22) scale(1,1.04)" font-size="13.5" text-anchor="middle" fill="#202020" stroke="#202020" stroke-width="0.25">13</text>
<text transform="translate(552.15,366.88) scale(1,1.04)" font-size="13.5" text-anchor="middle" fill="#202020" stroke="#202020" stroke-width="0.25">96</text>
<text transform="translate(589.85,366.88) scale(1,1.04)" font-size="13.5" text-anchor="middle" fill="#202020" stroke="#202020" stroke-width="0.25">58</text>
<text transform="translate(627.55,366.88) scale(1,1.04)" font-size="13.5" text-anchor="middle" fill="#202020" stroke="#202020" stroke-width="0.25">16</text>
<rect x="533.30" y="230.40" width="150.80" height="150.60" fill="none" stroke="#c2c2c2" stroke-width="1"/>
<text x="608.70" y="216.75" font-size="16.4" font-style="italic" text-anchor="middle" fill="#1a1a1a">P. menziesii</text>
<line x1="552.15" x2="552.15" y1="381.00" y2="387.50" stroke="#9a9a9a" stroke-width="1"/>
<text x="552.15" y="401.00" font-size="11.4" text-anchor="middle" fill="#787878">0</text>
<line x1="589.85" x2="589.85" y1="381.00" y2="387.50" stroke="#9a9a9a" stroke-width="1"/>
<text x="589.85" y="401.00" font-size="11.4" text-anchor="middle" fill="#787878">1</text>
<line x1="627.55" x2="627.55" y1="381.00" y2="387.50" stroke="#9a9a9a" stroke-width="1"/>
<text x="627.55" y="401.00" font-size="11.4" text-anchor="middle" fill="#787878">2</text>
<line x1="665.25" x2="665.25" y1="381.00" y2="387.50" stroke="#9a9a9a" stroke-width="1"/>
<text x="665.25" y="401.00" font-size="11.4" text-anchor="middle" fill="#787878">3</text>
</g>
<text transform="translate(363.4,423.2) scale(1,1.05)" font-size="18.75" text-anchor="middle" fill="#111">Observed fructification intensity</text>
<text transform="translate(13.7,203.4) rotate(-90) scale(1,1.05)" font-size="18.75" text-anchor="middle" fill="#111">Estimated fructification intensity</text>
</svg></body></html>
